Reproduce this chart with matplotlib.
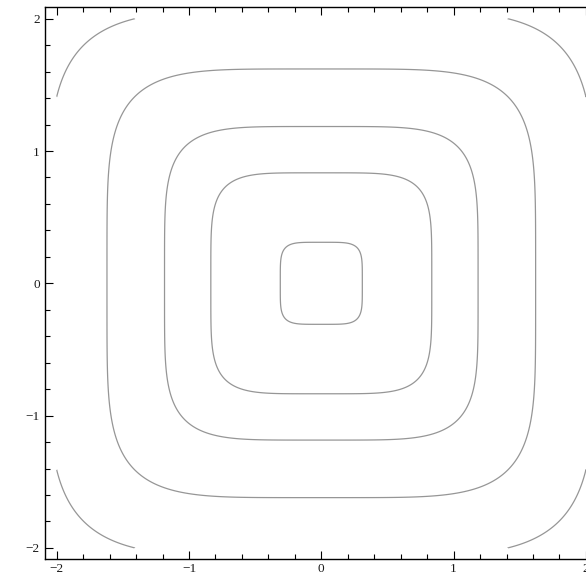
import numpy as np
import matplotlib
matplotlib.use("Agg")
import matplotlib.pyplot as plt
from matplotlib.ticker import MultipleLocator

# Contour lines: half-width of each rounded square
# (where it crosses the axes), plus the corner arcs that pass through (2, 1.41).
contour_radii = [0.31, 0.835, 1.185, 1.62]
corner_point = (2.0, 1.41)
exponent = 5  # squareness of the rounded squares

major_ticks = [-2, -1, 0, 1, 2]
tick_labels = ["\u22122", "\u22121", "0", "1", "2"]

line_color = "#969696"

fig = plt.figure(figsize=(5.86, 5.79), dpi=100)
W, H = 586, 579

# axes frame in pixels: left spine 45.3, top spine 7.3, data -2..2 spans 529 px
unit = 132.3
pad = 11.4
left_px = 45.3
top_px = 7.3
width_px = 4 * unit + 2 * pad
height_px = 4 * unit + 2 * pad
ax = fig.add_axes([left_px / W, 1 - (top_px + height_px) / H,
                   width_px / W, height_px / H])

# level field, only evaluated inside [-2, 2] like the original plot region
g = np.linspace(-2, 2, 801)
X, Y = np.meshgrid(g, g)
F = np.abs(X) ** exponent + np.abs(Y) ** exponent

levels = [r ** exponent for r in contour_radii]
levels.append(corner_point[0] ** exponent + corner_point[1] ** exponent)
ax.contour(X, Y, F, levels=sorted(levels), colors=line_color, linewidths=0.9)

ax.set_xlim(-2 - pad / unit, 2 + pad / unit)
ax.set_ylim(-2 - pad / unit, 2 + pad / unit)

ax.set_xticks(major_ticks)
ax.set_yticks(major_ticks)
ax.set_xticklabels(tick_labels)
ax.set_yticklabels(tick_labels)
ax.xaxis.set_minor_locator(MultipleLocator(0.2))
ax.yaxis.set_minor_locator(MultipleLocator(0.2))

ax.tick_params(which="both", direction="in", top=True, right=True,
               width=0.8, color="black")
ax.tick_params(which="major", length=5.5)
ax.tick_params(which="minor", length=3.3)
ax.tick_params(axis="x", pad=3)
ax.tick_params(axis="y", pad=4)
for lab in ax.get_xticklabels() + ax.get_yticklabels():
    lab.set_fontfamily("Liberation Serif")
    lab.set_fontsize(9.5)
    lab.set_color("#1a1a1a")

for sp in ax.spines.values():
    sp.set_linewidth(1.0)
    sp.set_color("black")

fig.savefig("out.png", dpi=100)
